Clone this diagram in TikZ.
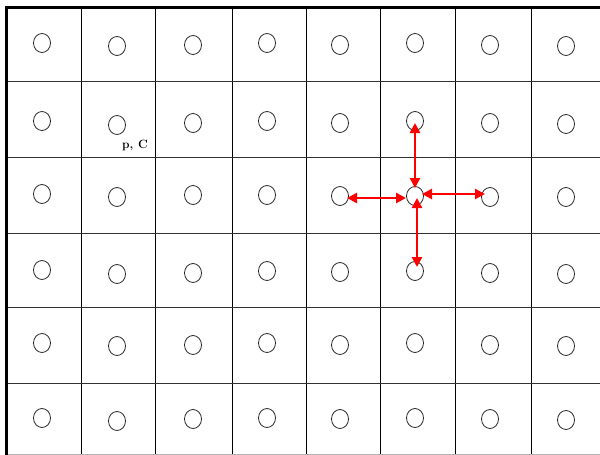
\documentclass[tikz,border=0pt]{standalone}
\usetikzlibrary{shapes.geometric,arrows.meta}
\tikzset{
  site/.style={draw=black!85, ellipse, line width=0.8pt, inner sep=0pt,
    minimum width=17pt, minimum height=19pt},
  hop/.style={draw=red, line width=2.8pt,
    arrows={Triangle[length=10pt,width=10pt]-Triangle[length=10pt,width=10pt]}},
  tag/.style={inner sep=0pt, font=\fontsize{12}{12}\selectfont\bfseries}
}
\begin{document}
\begin{tikzpicture}[x=1pt, y=-1pt]
% lattice of sites, pixel coordinates
\providecommand{\latLineColor}{black!80}
\providecommand{\latLineWidth}{0.9pt}
\providecommand{\latBorderWidth}{3pt}
\useasboundingbox (0,0) rectangle (600,455);
\fill[white] (0,0) rectangle (600,455);
% Vertical lines
\begin{scope}[draw=black, line width=\latLineWidth]
  \draw (81,7) -- (81,455);
  \draw (155,7) -- (155,455);
  \draw (232,7) -- (232,455);
  \draw (306,7) -- (306,455);
  \draw (380,7) -- (380,455);
  \draw (455,7) -- (455,455);
  \draw (531,7) -- (531,455);
\end{scope}
% Horizontal lines
\begin{scope}[draw=\latLineColor, line width=\latLineWidth]
  \draw (6,81) -- (600,81);
  \draw (6,157) -- (600,157);
  \draw (6,233) -- (600,233);
  \draw (6,307) -- (600,307);
  \draw (6,383) -- (600,383);
  \draw[black!30] (6,454) -- (600,454);
\end{scope}
% Outer frame, top and left only
\draw[line width=\latBorderWidth, line cap=rect] (6,455) -- (6,7) -- (600,7);
% Sites, row 1
\node[site] (c11) at (42,43) {};
\node[site] (c12) at (117,46) {};
\node[site] (c13) at (193,45) {};
\node[site] (c14) at (267,43) {};
\node[site] (c15) at (340,45) {};
\node[site] (c16) at (415,43) {};
\node[site] (c17) at (490,45) {};
\node[site] (c18) at (566,46) {};
% row 2
\node[site] (c21) at (42,121) {};
\node[site] (c22) at (117,125) {};
\node[site] (c23) at (193,123) {};
\node[site] (c24) at (267,121) {};
\node[site] (c25) at (340,123) {};
\node[site] (c26) at (415,121) {};
\node[site] (c27) at (490,123) {};
\node[site] (c28) at (566,124) {};
% row 3
\node[site] (c31) at (42,194) {};
\node[site] (c32) at (117,197) {};
\node[site] (c33) at (193,195) {};
\node[site] (c34) at (267,195) {};
\node[site] (c35) at (340,196) {};
\node[site] (c36) at (415,196) {};
\node[site] (c37) at (490,197) {};
\node[site] (c38) at (566,197) {};
% row 4
\node[site] (c41) at (42,270) {};
\node[site] (c42) at (117,274) {};
\node[site] (c43) at (193,273) {};
\node[site] (c44) at (267,271) {};
\node[site] (c45) at (340,272) {};
\node[site] (c46) at (415,271) {};
\node[site] (c47) at (490,273) {};
\node[site] (c48) at (566,274) {};
% row 5
\node[site] (c51) at (42,343) {};
\node[site] (c52) at (117,346) {};
\node[site] (c53) at (193,345) {};
\node[site] (c54) at (267,343) {};
\node[site] (c55) at (340,345) {};
\node[site] (c56) at (415,343) {};
\node[site] (c57) at (490,345) {};
\node[site] (c58) at (566,346) {};
% row 6
\node[site] (c61) at (42,418) {};
\node[site] (c62) at (117,421) {};
\node[site] (c63) at (193,419) {};
\node[site] (c64) at (267,418) {};
\node[site] (c65) at (340,419) {};
\node[site] (c66) at (415,418) {};
\node[site] (c67) at (490,419) {};
\node[site] (c68) at (566,420) {};
% Label
\node[tag] (pc) at (135,145) {p, C};
% Hops to the four neighbours
\draw[hop, shorten <=2pt, shorten >=8pt] (c26.center) -- (c36.center);
\draw[hop, shorten <=2pt, shorten >=4pt] ([xshift=2pt]c36.center) -- ([xshift=2pt]c46.center);
\draw[hop, shorten <=7pt, shorten >=9pt] ([yshift=-2pt]c35.center) -- ([yshift=-2pt]c36.center);
\draw[hop, shorten <=7pt, shorten >=5pt] ([yshift=2pt]c36.center) -- ([yshift=3pt]c37.center);
\end{tikzpicture}
\end{document}
